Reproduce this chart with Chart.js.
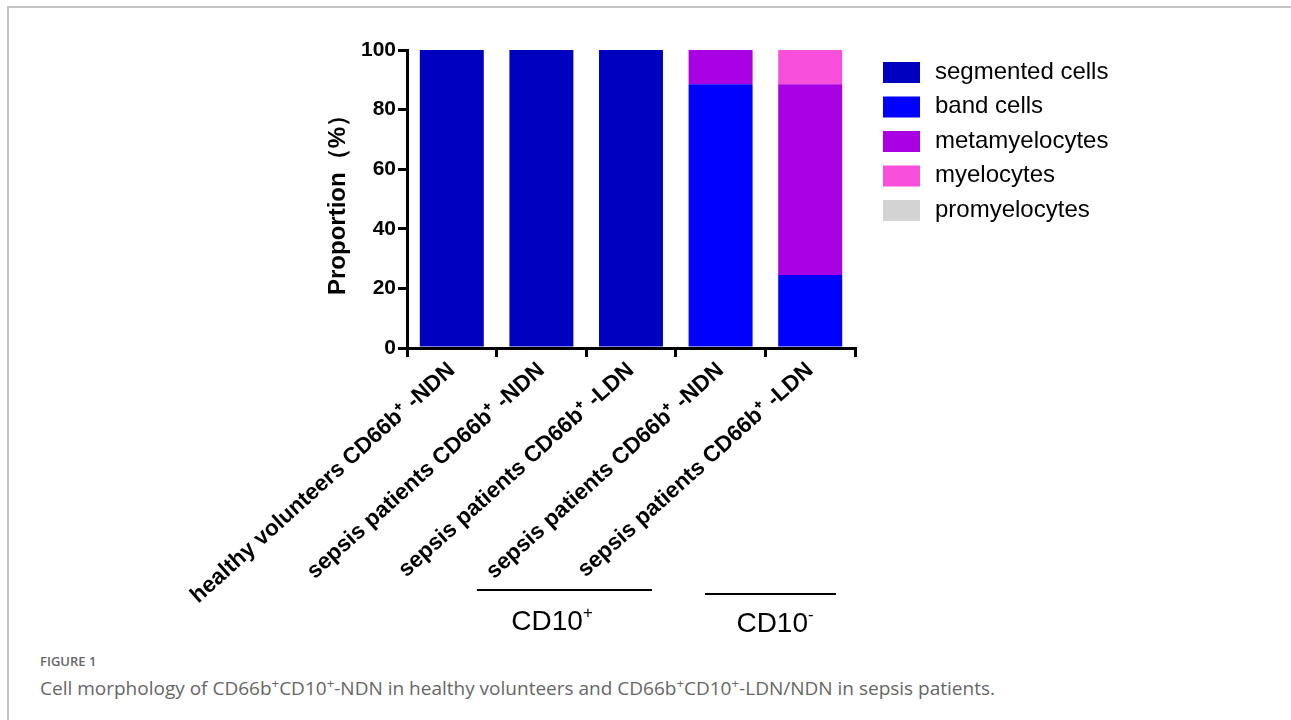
<!DOCTYPE html>
<html lang="en">
<head>
    <meta charset="UTF-8">
    <title>Cell morphology</title>
    <script src="https://cdn.jsdelivr.net/npm/chart.js"></script>
    <style>
        body {
            margin: 0;
            background: #fff;
            font-family: "Liberation Sans", Arial, sans-serif;
        }
        .frame {
            position: absolute;
            left: 7px;
            top: 6px;
            width: 1290px;
            height: 720px;
            border-top: 2px solid #c4c4c4;
            border-left: 2px solid #c4c4c4;
        }
        #chart {
            position: absolute;
            left: 0;
            top: 0;
        }
        .group-line {
            position: absolute;
            height: 2px;
            background: #000;
        }
        .group-label {
            position: absolute;
            font-size: 28px;
            line-height: 1;
            color: #000;
            transform: translateX(-50%);
            white-space: nowrap;
        }
        .group-label sup {
            font-size: 60%;
            vertical-align: 0.7em;
            line-height: 0;
        }
        .fig-no {
            position: absolute;
            left: 40px;
            top: 652px;
            font: 600 13px "Open Sans", sans-serif;
            color: #666;
        }
        .caption {
            position: absolute;
            left: 40px;
            top: 675px;
            font: 19px "Open Sans", sans-serif;
            color: #666;
            white-space: nowrap;
        }
        .caption sup {
            font-size: 70%;
            line-height: 0;
        }
    </style>
</head>
<body>
    <div class="frame"></div>
    <canvas id="chart" width="1291" height="640"></canvas>

    <!-- group brackets under the x labels -->
    <div class="group-line" style="left:477px; top:589px; width:175px;"></div>
    <div class="group-line" style="left:705px; top:593px; width:131px;"></div>
    <div class="group-label" style="left:552px; top:607px;">CD10<sup>+</sup></div>
    <div class="group-label" style="left:775px; top:609px;">CD10<sup>-</sup></div>

    <div class="fig-no">FIGURE 1</div>
    <div class="caption">Cell morphology of CD66b<sup>+</sup>CD10<sup>+</sup>-NDN in healthy volunteers and CD66b<sup>+</sup>CD10<sup>+</sup>-LDN/NDN in sepsis patients.</div>

    <script>
        // data (percent of cells)
        const groups = [
            'healthy volunteers CD66b\u207A -NDN',
            'sepsis patients CD66b\u207A -NDN',
            'sepsis patients CD66b\u207A -LDN',
            'sepsis patients CD66b\u207A -NDN',
            'sepsis patients CD66b\u207A -LDN'
        ];
        const segmented = [100, 100, 100, 0, 0];
        const band = [0, 0, 0, 88.5, 24.5];
        const metamyelocytes = [0, 0, 0, 11.5, 64];
        const myelocytes = [0, 0, 0, 0, 11.5];
        const promyelocytes = [0, 0, 0, 0, 0];
        const yTicks = [0, 20, 40, 60, 80, 100];

        const font = 'Liberation Sans, Arial, sans-serif';

        // legend drawn at the right like the original figure
        const sideLegend = {
            id: 'sideLegend',
            afterDraw(chart) {
                const ctx = chart.ctx;
                ctx.save();
                ctx.font = '24px ' + font;
                ctx.textBaseline = 'middle';
                chart.data.datasets.forEach((ds, i) => {
                    const y = 62 + i * 34.5;
                    ctx.fillStyle = ds.backgroundColor;
                    ctx.fillRect(883, y, 37, 21);
                    ctx.fillStyle = '#000';
                    ctx.fillText(ds.label, 935, y + 10);
                });
                ctx.restore();
            }
        };

        const ctx = document.getElementById('chart').getContext('2d');
        new Chart(ctx, {
            type: 'bar',
            data: {
                labels: groups,
                datasets: [
                    { label: 'segmented cells', data: segmented, backgroundColor: '#0000C0' },
                    { label: 'band cells', data: band, backgroundColor: '#0000FF' },
                    { label: 'metamyelocytes', data: metamyelocytes, backgroundColor: '#AA00E4' },
                    { label: 'myelocytes', data: myelocytes, backgroundColor: '#F850DC' },
                    { label: 'promyelocytes', data: promyelocytes, backgroundColor: '#D3D3D3' }
                ]
            },
            options: {
                responsive: false,
                animation: false,
                layout: {
                    padding: { left: 320, right: 436, top: 50, bottom: 22 }
                },
                datasets: {
                    bar: {
                        barPercentage: 0.714,
                        categoryPercentage: 1.0,
                        borderWidth: 0
                    }
                },
                plugins: {
                    legend: { display: false },
                    tooltip: { enabled: false }
                },
                scales: {
                    x: {
                        stacked: true,
                        afterFit: s => {
                            s.height = 270;
                            s.paddingLeft = 0;
                            s.paddingRight = 0;
                        },
                        border: { display: true, color: '#000', width: 3 },
                        grid: {
                            display: true,
                            drawOnChartArea: false,
                            drawTicks: true,
                            tickLength: 9,
                            color: '#000',
                            lineWidth: 3
                        },
                        ticks: {
                            autoSkip: false,
                            minRotation: 42,
                            maxRotation: 42,
                            padding: 0,
                            color: '#000',
                            font: { family: font, size: 22.5, weight: 'bold' }
                        }
                    },
                    y: {
                        stacked: true,
                        min: 0,
                        max: 100,
                        afterFit: s => {
                            s.width = 87;
                            s.paddingTop = 0;
                            s.paddingBottom = 0;
                        },
                        afterBuildTicks: s => {
                            s.ticks = yTicks.map(v => ({ value: v }));
                        },
                        border: { display: true, color: '#000', width: 3 },
                        grid: {
                            display: true,
                            drawOnChartArea: false,
                            drawTicks: true,
                            tickLength: 9,
                            color: '#000',
                            lineWidth: 3
                        },
                        ticks: {
                            padding: 2,
                            color: '#000',
                            font: { family: font, size: 21, weight: 'bold' }
                        },
                        title: {
                            display: true,
                            text: 'Proportion\uFF08%\uFF09',
                            color: '#000',
                            padding: { top: 4, bottom: 0 },
                            font: { family: font, size: 24, weight: 'bold' }
                        }
                    }
                }
            },
            plugins: [sideLegend]
        });
    </script>
</body>
</html>
